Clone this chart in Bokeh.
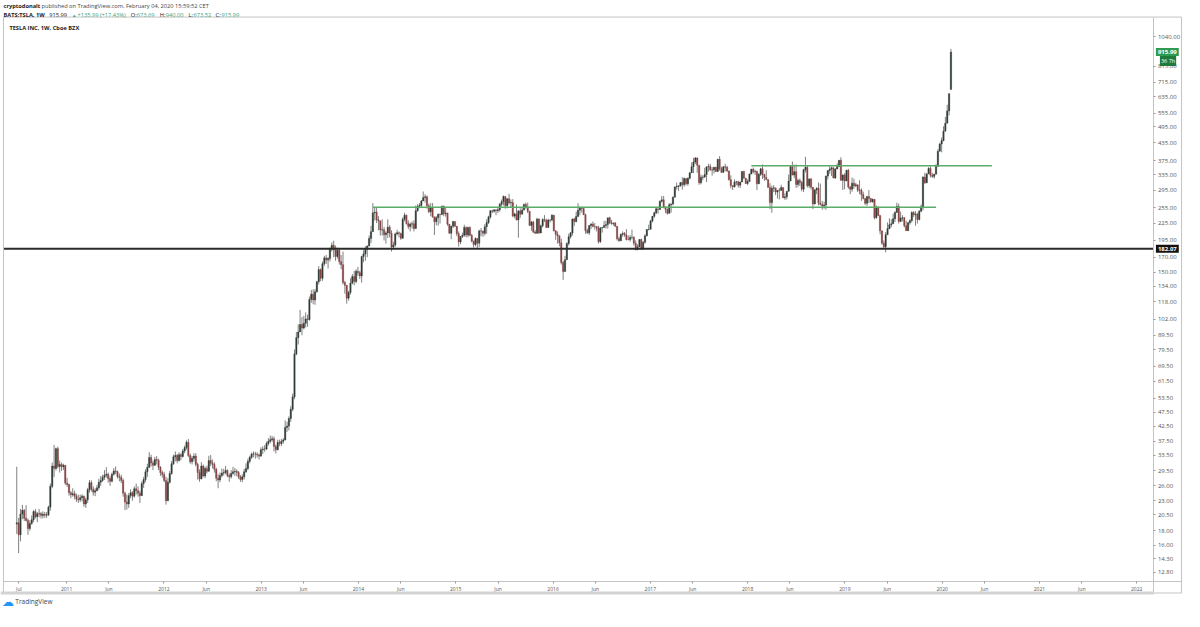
import numpy as np
import pandas as pd
from bokeh.plotting import figure
from bokeh.models import (Range1d, FixedTicker, CustomJSTickFormatter, Label, BoxAnnotation, ColumnDataSource)
from bokeh.embed import file_html
from bokeh.resources import INLINE

# ---------------- weekly TSLA candles (week starting Monday 2010-06-28) ----------------
close_2010 = [19.20, 17.40, 20.64, 21.29, 19.94, 19.59, 18.32, 19.10, 19.70, 21.05, 20.17, 20.67, 20.71, 20.41,
              20.60, 20.45, 20.50, 21.84, 25.90, 30.60, 30.00, 35.30, 30.50, 31.00, 30.40, 30.80, 26.63]
high_2010 = [30.42, 20.00, 21.50, 22.25, 21.50, 22.20, 19.90, 19.60, 20.40, 21.30, 21.50, 21.00, 21.50, 21.00,
             21.10, 21.00, 21.00, 22.10, 26.50, 31.50, 36.40, 35.60, 35.90, 32.00, 31.50, 31.20, 30.50]
low_2010 = [17.54, 14.98, 16.50, 19.80, 19.50, 19.40, 17.40, 18.00, 18.90, 19.30, 19.90, 19.30, 20.10, 19.90,
            19.90, 20.00, 20.00, 20.30, 21.20, 25.50, 28.00, 29.50, 30.00, 29.00, 29.40, 29.60, 26.20]

close_2011 = [26.3, 24.6, 24.2, 24.4, 23.9, 23.3, 23.2, 23.6, 23.9, 22.4, 23.2, 25.2, 26.7, 25.3, 24.7, 25.0, 25.6,
              26.8, 27.2, 27.9, 28.4, 28.6, 27.6, 27.0, 28.6, 29.4, 29.2, 28.1, 27.9, 27.2, 24.5, 22.8, 22.4, 24.0,
              24.6, 23.9, 25.4, 25.0, 24.5, 24.0, 26.5, 27.4, 29.2, 30.3, 32.8, 31.4, 30.8, 32.3, 32.1, 30.3, 29.0, 28.56]
high_2011 = [27.8, 26.5, 24.9, 25.5, 25.0, 24.4, 24.2, 24.2, 24.3, 24.0, 23.6, 25.6, 27.3, 27.2, 25.9, 25.5, 26.2,
             27.6, 28.2, 28.5, 29.6, 30.3, 29.0, 28.1, 29.0, 30.1, 30.5, 29.5, 28.8, 28.5, 27.6, 24.8, 24.2, 24.5,
             25.3, 24.9, 25.9, 26.5, 25.9, 25.0, 27.0, 28.0, 29.8, 31.2, 34.3, 33.6, 32.0, 33.0, 33.2, 32.5, 30.6, 29.5]
low_2011 = [25.8, 24.0, 23.5, 23.8, 23.3, 22.8, 22.6, 22.8, 22.9, 21.9, 21.7, 22.6, 24.6, 24.8, 24.0, 23.9, 24.9,
            25.2, 26.0, 26.9, 27.3, 27.8, 26.7, 26.0, 26.8, 28.3, 28.6, 27.6, 27.0, 26.6, 23.8, 21.3, 21.4, 21.7,
            23.5, 23.0, 23.6, 24.2, 23.8, 22.6, 24.0, 25.6, 26.8, 28.0, 30.1, 30.5, 29.6, 30.6, 31.0, 29.6, 28.2, 27.8]

close_2012 = [27.2, 23.0, 26.8, 28.8, 31.2, 33.0, 33.4, 32.0, 33.6, 33.1, 34.6, 35.6, 37.2, 33.4, 31.7, 32.6, 33.2,
              31.0, 29.0, 27.5, 30.6, 28.2, 30.0, 29.3, 32.0, 31.3, 31.0, 29.8, 27.7, 27.3, 28.3, 28.9, 29.0, 29.5,
              28.3, 28.0, 28.8, 29.2, 29.3, 29.0, 28.0, 27.4, 28.0, 29.2, 30.0, 31.8, 32.9, 33.8, 33.8, 33.7, 33.5,
              33.2, 35.0]
high_2012 = [29.2, 28.0, 27.7, 29.4, 31.9, 33.6, 34.5, 33.8, 34.3, 34.0, 35.2, 36.2, 37.8, 38.2, 33.9, 33.2, 34.0,
             34.0, 31.5, 29.8, 31.6, 31.0, 30.5, 30.7, 33.3, 33.5, 32.3, 31.6, 30.2, 28.6, 29.0, 30.0, 29.9, 30.6,
             29.8, 28.8, 29.6, 30.4, 30.1, 29.8, 29.4, 28.4, 28.6, 29.9, 31.3, 32.5, 33.3, 34.2, 34.5, 34.4, 34.3,
             33.9, 35.7]
low_2012 = [26.8, 22.3, 23.4, 26.5, 28.5, 30.9, 31.8, 31.3, 31.8, 32.1, 32.8, 34.0, 35.0, 32.9, 31.2, 31.0, 31.8,
            30.5, 27.4, 26.9, 27.6, 27.9, 27.7, 28.8, 29.3, 30.6, 30.0, 29.0, 27.0, 25.5, 26.8, 27.9, 28.3, 28.6,
            27.9, 26.9, 27.6, 28.5, 28.2, 28.1, 27.5, 26.9, 26.8, 27.4, 28.9, 29.6, 31.3, 32.4, 32.9, 32.5, 32.8,
            32.3, 33.0]

close_2013 = [35.2, 35.2, 36.8, 37.5, 38.0, 38.3, 35.9, 35.0, 37.2, 36.8, 37.5, 37.9, 42.0, 42.5, 45.2, 48.8, 54.0,
              76.8, 87.8, 92.0, 97.8, 95.0, 98.8, 102.4, 101.8, 120.1, 125.5, 119.6, 128.0, 139.0, 153.5, 143.0,
              161.0, 169.0, 166.0, 168.0, 182.0, 187.5, 180.9, 171.0, 180.0, 164.0, 159.9, 138.0, 135.0, 121.4,
              127.3, 137.4, 145.0, 139.3, 151.5, 149.6]
high_2013 = [36.0, 36.3, 37.4, 38.5, 39.3, 39.2, 39.0, 36.5, 38.0, 38.0, 38.2, 38.5, 44.5, 44.0, 46.0, 50.0, 55.5,
             79.7, 92.0, 98.0, 110.3, 104.0, 105.0, 108.0, 106.0, 123.0, 130.0, 130.5, 131.0, 140.0, 158.0, 155.0,
             164.0, 172.0, 173.0, 170.0, 184.0, 192.0, 194.5, 187.0, 184.0, 182.0, 173.0, 178.0, 140.0, 131.0,
             129.0, 143.0, 148.0, 152.0, 154.0, 157.0]
low_2013 = [33.8, 34.4, 34.9, 36.2, 36.9, 37.3, 34.5, 33.9, 34.8, 36.0, 36.1, 36.8, 37.8, 40.5, 41.0, 44.0, 48.0,
            53.0, 76.0, 83.0, 93.0, 89.5, 94.0, 95.5, 96.0, 101.0, 117.0, 115.5, 115.0, 127.0, 136.0, 139.5,
            140.0, 158.0, 161.0, 155.0, 164.0, 178.0, 170.0, 165.0, 168.0, 160.0, 154.0, 136.0, 126.0, 116.1,
            119.0, 125.0, 136.0, 135.0, 137.0, 146.0]

close_2014 = [145.7, 171.0, 174.6, 181.4, 186.5, 198.2, 209.6, 244.8, 246.2, 231.0, 228.9, 212.4, 212.8, 204.5,
              207.5, 217.4, 207.0, 184.7, 188.0, 205.7, 207.8, 206.4, 198.4, 232.0, 240.0, 224.0, 218.7, 223.0,
              223.6, 215.0, 249.0, 258.0, 260.0, 269.7, 277.4, 279.2, 259.3, 246.9, 255.2, 236.9, 227.5, 235.2,
              241.7, 241.2, 258.0, 242.8, 244.5, 223.0, 207.0, 219.3, 227.8, 219.3]
high_2014 = [152, 172, 180, 186, 187, 203, 220, 265, 256, 255, 238, 230, 232, 218, 210, 232, 221, 212, 193, 208,
             213, 210, 208, 236, 245, 241, 230, 226, 228, 230, 260, 263, 265, 272, 291.4, 285, 282, 264, 265, 265,
             234, 238, 243, 243, 260, 260, 255, 244, 222, 220, 229, 227]
low_2014 = [142, 138, 163, 165, 170, 186, 191, 215, 229.5, 225, 212, 203, 203, 195, 190, 199, 200, 178, 181, 185,
            203, 200, 196, 200, 228, 222, 214, 210, 215, 210, 227, 247, 254, 255, 270, 266, 253, 244, 238, 235,
            204, 221, 220, 224, 240, 238, 237, 220, 206, 197, 216, 218]

close_2015 = [206.1, 192.7, 201.3, 203.6, 217.1, 203.8, 217.1, 203.3, 193.9, 188.7, 198.1, 190.6, 210.9, 210.9,
              206.8, 218.4, 226.0, 236.6, 248.8, 247.7, 250.8, 249.1, 250.7, 262.5, 267.7, 280.0, 259.2, 274.7,
              265.4, 266.2, 238.2, 242.5, 230.8, 248.5, 241.9, 250.2, 262.0, 256.9, 247.6, 220.7, 227.0, 209.1,
              206.9, 232.4, 207.2, 220.0, 231.6, 230.4, 217.0, 230.5, 230.6, 240.0]
high_2015 = [217, 210, 202, 208, 222, 219, 218, 219, 206, 195, 200, 199, 213, 216, 211, 223, 232, 239, 250, 251,
             252, 251, 256, 265, 273, 282, 272, 276, 286, 273, 274, 245, 262, 250, 254, 255, 264, 266, 266, 248,
             229, 229, 212, 235, 234, 222, 234, 240, 233, 233, 232, 242]
low_2015 = [202, 185.5, 189, 199, 201, 200, 200, 202, 192, 184, 186, 181.4, 185, 202, 201, 203, 206, 223, 233, 244,
            245, 240, 244, 247, 258, 260, 253, 254, 262, 256, 236, 234, 230, 199.4, 235, 243, 250, 253, 244, 220,
            211, 207, 206, 206, 206, 209, 217, 227, 216, 218, 226, 228]

close_2016 = [211.0, 205.0, 202.6, 191.2, 162.6, 151.0, 166.6, 190.3, 201.0, 207.5, 232.7, 227.8, 237.6, 250.1,
              254.5, 253.7, 240.8, 211.5, 207.6, 220.3, 223.0, 218.9, 218.8, 215.5, 193.2, 216.5, 216.8, 220.4,
              222.3, 234.8, 225.6, 224.0, 225.0, 219.0, 197.7, 194.5, 205.4, 206.4, 204.0, 196.6, 196.5, 200.0,
              200.0, 190.6, 180.5, 185.0, 196.6, 181.5, 192.2, 202.5, 213.3, 213.7]
high_2016 = [232, 212, 210, 203, 198, 165, 172, 192, 206, 209, 233, 235, 247, 265, 258, 257, 256, 243, 215, 221,
             225, 228, 225, 219, 220, 217, 218, 229, 229, 235, 237, 231, 226, 227, 218, 201, 206, 210, 209, 214,
             203, 204, 213, 202, 195, 189, 197, 198, 194, 205, 214, 222]
low_2016 = [210, 196, 190, 186, 160, 141.1, 153, 172, 187, 198, 203, 220, 226, 236, 240, 245, 240, 206, 206, 204,
            214, 217, 213, 210, 190, 191, 208, 217, 215, 215, 223, 222, 220, 218, 195, 193, 194, 201, 201, 195,
            195, 193, 197, 187, 180, 181, 185, 181, 181, 190, 202, 212]

close_2017 = [229.0, 237.8, 244.7, 253.0, 251.3, 269.0, 272.2, 257.0, 251.6, 243.7, 261.5, 263.2, 278.3, 302.5,
              304.0, 305.6, 314.1, 308.4, 324.2, 310.8, 325.1, 339.9, 357.3, 371.4, 383.5, 361.6, 313.2, 327.8,
              328.4, 335.0, 356.9, 357.9, 347.5, 348.0, 355.4, 343.4, 379.8, 351.1, 341.1, 356.9, 355.7, 345.1,
              320.9, 306.1, 303.0, 315.0, 315.6, 306.9, 315.1, 343.5, 325.2, 311.4]
high_2017 = [231, 238, 247, 255, 253, 271, 281, 281, 257, 254, 265, 264, 280, 304, 313.7, 306, 314.5, 327.7, 327,
             322, 327, 341, 370, 384.3, 387, 386, 352, 335, 333, 354, 357, 366, 366, 356, 357, 357, 381, 389.6,
             357, 359, 366, 360, 346, 333, 307, 322, 318, 318, 316, 344, 346, 326]
low_2017 = [214, 226, 235, 242, 243, 251, 266, 254, 244, 241, 243, 245, 260, 278, 296, 293, 303, 296, 303, 306,
            306, 322, 341, 339, 365, 340, 308, 309, 320, 326, 315, 343, 346, 332, 338, 342, 350, 346, 339, 340,
            344, 342, 319, 299, 295, 301, 307, 301, 300, 325, 324, 310]

close_2018 = [316.6, 336.2, 350.0, 342.9, 343.8, 310.4, 335.5, 351.0, 335.1, 327.2, 321.4, 301.5, 266.1, 299.3,
              300.3, 290.2, 294.1, 294.1, 301.1, 276.8, 278.9, 291.8, 317.7, 358.2, 333.6, 343.0, 308.9, 318.9,
              313.6, 297.2, 348.2, 355.5, 305.5, 322.8, 301.7, 263.2, 295.2, 299.1, 264.8, 262.0, 258.8, 261.0,
              330.9, 346.4, 350.5, 354.3, 325.8, 350.5, 358.0, 376.8, 319.8, 333.9, 317.7]
high_2018 = [322, 338, 351, 355, 349, 346, 339, 354, 364, 337, 347, 321, 312, 306, 307, 300, 295, 300, 308, 300,
             287, 292, 335, 359, 373, 363, 364, 324, 324, 318, 351, 387.5, 360, 325, 326, 299, 298, 302, 314, 311,
             270, 268, 332, 347, 361, 357, 355, 353, 367, 377, 386, 335, 339]
low_2018 = [307, 317, 337, 338, 334, 294.8, 310, 331, 323, 318, 320, 301, 252.1, 244.6, 290, 283, 275, 273, 295,
            276, 272, 273, 292, 320, 333, 325, 300, 302, 305, 292, 290, 341, 301, 300, 296, 252.3, 262, 285, 260,
            260, 251, 253, 251, 322, 337, 331, 325, 323, 350, 356, 318, 295, 297]

close_2019 = [347.3, 302.3, 297.0, 312.2, 305.4, 307.9, 294.7, 294.8, 284.1, 275.4, 264.5, 279.9, 275.0, 267.8,
              273.3, 235.1, 255.0, 239.5, 211.0, 190.6, 185.2, 204.5, 214.9, 221.9, 223.5, 233.1, 245.4, 258.2,
              228.0, 234.3, 235.0, 219.9, 211.4, 225.6, 229.6, 245.2, 240.6, 242.1, 231.4, 247.9, 257.0, 328.1,
              313.3, 337.1, 352.2, 333.0, 329.9, 335.9, 358.4, 405.6, 430.4, 443.0]
high_2019 = [348, 351, 305, 327, 324, 313, 308, 320, 299, 291, 276, 281, 295, 277, 275, 266, 260, 258, 232, 210,
             195, 209, 226, 234, 232, 243, 248, 266, 264, 247, 240, 236, 229, 227, 232, 248, 248, 248, 245, 250,
             262, 330, 340, 337.5, 356, 359, 340, 337, 365, 413, 435, 454]
low_2019 = [318, 298, 285, 291, 298, 302, 290, 285, 270, 273, 261, 259, 265, 266, 266, 232, 233, 238, 205, 188,
            183, 177, 204, 214, 217, 224, 227, 245, 224, 227, 228, 217, 211, 211, 222, 226, 236, 220, 224, 230,
            246, 250, 310, 312, 336, 327, 326, 324, 336, 358, 412, 402]

close_2020 = [478.2, 510.5, 564.8, 650.6, 915.99]
high_2020 = [498, 538, 594.5, 653, 940.00]
low_2020 = [440, 484, 516, 544, 673.52]

first_open = 19.00
last_open = 673.69
first_week = "2010-06-28"

# ---------------- annotations ----------------
support_level = 182.07
last_price = 915.99
countdown = "36 7h"
zone_levels = [256.0, 360.0]
zone_start = ["2014-02-24", "2018-01-15"]
zone_end = ["2019-12-09", "2020-07-06"]

price_ticks = [1040, 815, 715, 635, 555, 495, 435, 375, 335, 295, 255, 225, 195, 170, 150, 134, 118, 102,
               89.5, 79.5, 69.5, 61.5, 53.5, 47.5, 42.5, 37.5, 33.5, 29.5, 26, 23, 20.5, 18, 16, 14.3, 12.8]
time_ticks = [2010.51, 2011.0, 2011.435, 2012.0, 2012.435, 2013.0, 2013.435, 2014.0, 2014.435, 2015.0, 2015.435,
              2016.0, 2016.435, 2017.0, 2017.435, 2018.0, 2018.435, 2019.0, 2019.435, 2020.0, 2020.435,
              2021.0, 2021.435, 2022.0]
time_labels = ["Jul", "2011", "Jun", "2012", "Jun", "2013", "Jun", "2014", "Jun", "2015", "Jun",
               "2016", "Jun", "2017", "Jun", "2018", "Jun", "2019", "Jun", "2020", "Jun",
               "2021", "Jun", "2022"]

# ---------------- assemble ----------------
closes = (close_2010 + close_2011 + close_2012 + close_2013 + close_2014 + close_2015 + close_2016 +
          close_2017 + close_2018 + close_2019 + close_2020)
highs = (high_2010 + high_2011 + high_2012 + high_2013 + high_2014 + high_2015 + high_2016 +
         high_2017 + high_2018 + high_2019 + high_2020)
lows = (low_2010 + low_2011 + low_2012 + low_2013 + low_2014 + low_2015 + low_2016 +
        low_2017 + low_2018 + low_2019 + low_2020)
assert len(closes) == len(highs) == len(lows), (len(closes), len(highs), len(lows))

opens = [first_open] + closes[:-1]
opens[-1] = last_open
highs = [max(h, o, c) for h, o, c in zip(highs, opens, closes)]
lows = [min(l, o, c) for l, o, c in zip(lows, opens, closes)]


def dec_year(d):
    d = pd.Timestamp(d)
    n = 366 if d.is_leap_year else 365
    return d.year + (d.dayofyear - 1) / n


dates = pd.date_range(first_week, periods=len(closes), freq="7D")
t = [dec_year(d) for d in dates]

UP = "#2f3d36"
DOWN = "#8a4545"
WICK = "#808080"
up = [c >= o for o, c in zip(opens, closes)]
src = ColumnDataSource(dict(
    t=t, h=highs, l=lows,
    top=[max(o, c) for o, c in zip(opens, closes)],
    bot=[min(o, c) for o, c in zip(opens, closes)],
    col=[UP if u else DOWN for u in up],
))

# ---------------- geometry: the frame is the whole canvas ----------------
W, H = 1184, 611
SX, SY = W / 1200, H / 627


def tx(px):      # horizontal page position -> time coordinate
    return 2011 + (px - 67) / 98.6


def pv(py):      # vertical page position -> price coordinate (log scale)
    return float(np.exp(np.log(1040) - (py - 37) / 125))


AXIS_X = tx(1169)        # price axis line
AXIS_Y = pv(596)         # time axis line

p = figure(frame_width=W, frame_height=H, y_axis_type="log", y_axis_location="right",
           x_range=Range1d(tx(0), tx(1200)), y_range=Range1d(pv(627), pv(0)),
           output_backend="svg", toolbar_location=None,
           min_border_left=0, min_border_top=0, min_border_right=0, min_border_bottom=0,
           background_fill_color="white", border_fill_color="white")
p.outline_line_color = None
p.xgrid.visible = False
p.ygrid.visible = False

# price axis (drawn inside the canvas at the pane's right edge)
p.yaxis.fixed_location = AXIS_X
p.yaxis.bounds = (pv(608), pv(17))
p.yaxis.ticker = FixedTicker(ticks=price_ticks)
p.yaxis.formatter = CustomJSTickFormatter(code="return tick.toFixed(2);")
p.yaxis.major_label_text_font = "Open Sans"
p.yaxis.major_label_text_font_size = "6px"
p.yaxis.major_label_text_color = "#555555"
p.yaxis.axis_line_color = "#c4c4c4"
p.yaxis.major_tick_line_color = "#9a9a9a"
p.yaxis.major_tick_out = 2
p.yaxis.major_tick_in = 0
p.yaxis.minor_tick_line_color = None
p.yaxis.major_label_standoff = 2

# time axis
p.xaxis.fixed_location = AXIS_Y
p.xaxis.bounds = (tx(3), tx(1197))
p.xaxis.ticker = FixedTicker(ticks=time_ticks)
p.xaxis.formatter = CustomJSTickFormatter(
    args=dict(vals=time_ticks, labs=time_labels),
    code="const i = vals.findIndex(v => Math.abs(v - tick) < 1e-6); return i >= 0 ? labs[i] : '';")
p.xaxis.major_label_text_font = "Open Sans"
p.xaxis.major_label_text_font_size = "5px"
p.xaxis.major_label_text_color = "#555555"
p.xaxis.axis_line_color = "#c4c4c4"
p.xaxis.major_tick_line_color = "#9a9a9a"
p.xaxis.major_tick_out = 2
p.xaxis.major_tick_in = 0
p.xaxis.minor_tick_line_color = None
p.xaxis.major_label_standoff = 3

# pane box and bottom band
p.add_layout(BoxAnnotation(left=tx(3), right=tx(1197), bottom=pv(608), top=pv(17),
                           fill_color=None, line_color="#c4c4c4", line_width=1, line_alpha=1))
p.add_layout(BoxAnnotation(left=tx(0), right=tx(1169), bottom=pv(609.5), top=pv(606.5),
                           fill_color="#d3d3d3", fill_alpha=1, line_color=None))

# candles
BAR_W = 7 / 365.25 * 0.72
p.segment(x0="t", y0="h", x1="t", y1="l", source=src, line_color=WICK, line_width=1)
p.vbar(x="t", width=BAR_W, top="top", bottom="bot", source=src, fill_color="col", line_color="col",
       line_width=0.4)

# horizontal levels
p.segment(x0=[tx(3)], y0=[support_level], x1=[AXIS_X], y1=[support_level], line_color="#2b2b2b", line_width=2)
p.segment(x0=[dec_year(d) for d in zone_start], y0=zone_levels,
          x1=[dec_year(d) for d in zone_end], y1=zone_levels,
          line_color="#5aac68", line_width=1.5)


def txt(text, x, y, size, color, bold=False):
    p.add_layout(Label(x=x * SX, y=H - y * SY, x_units="screen", y_units="screen", text=text,
                       text_font="Open Sans", text_font_size=f"{size}px", text_color=color,
                       text_font_style="bold" if bold else "normal",
                       text_baseline="middle", text_align="left"))


DARK = "#222222"
GREEN = "#3aa57f"
FS = 5.7
# header line 1
txt("cryptodonalt", 3, 6, FS, DARK, bold=True)
txt("published on TradingView.com, February 04, 2020 15:59:52 CET", 41.5, 6, FS, "#444444")
# header line 2
txt("BATS:TSLA, 1W", 3, 14.5, FS, DARK, bold=True)
txt("915.99", 49.5, 14.5, FS, DARK)
txt("\u25B2", 72.5, 14.5, 4.5, GREEN)
txt("+135.99 (+17.43%)", 78, 14.5, FS, GREEN)
txt("O:", 132, 14.5, FS, DARK)
txt("673.69", 138, 14.5, FS, GREEN)
txt("H:", 161.5, 14.5, FS, DARK)
txt("940.00", 167.5, 14.5, FS, GREEN)
txt("L:", 190.5, 14.5, FS, DARK)
txt("673.52", 195.5, 14.5, FS, GREEN)
txt("C:", 218, 14.5, FS, DARK)
txt("915.99", 224, 14.5, FS, GREEN)
# pane title
txt("TESLA INC, 1W, Cboe BZX", 9, 28.5, 5.7, DARK, bold=True)
# footer
txt("\u2601", 1.5, 617, 12, "#2196f3")
txt("TradingView", 15, 617, 6.5, "#444444")

# price-axis tags
p.add_layout(Label(x=AXIS_X, y=last_price, x_offset=2, text=f"{last_price:.2f}",
                   text_font="Open Sans", text_font_size="6px", text_color="white", text_font_style="bold",
                   text_baseline="middle", text_align="left", background_fill_color="#2f9a52", padding=2))
p.add_layout(Label(x=AXIS_X, y=last_price, x_offset=6, y_offset=-9, text=countdown,
                   text_font="Open Sans", text_font_size="5.5px", text_color="white",
                   text_baseline="middle", text_align="left", background_fill_color="#1f7a3e", padding=1))
p.add_layout(Label(x=AXIS_X, y=support_level, x_offset=2, text=f"{support_level:.2f}",
                   text_font="Open Sans", text_font_size="6px", text_color="white", text_font_style="bold",
                   text_baseline="middle", text_align="left", background_fill_color="#111111", padding=2))

open("out.html", "w").write(file_html(p, INLINE))
